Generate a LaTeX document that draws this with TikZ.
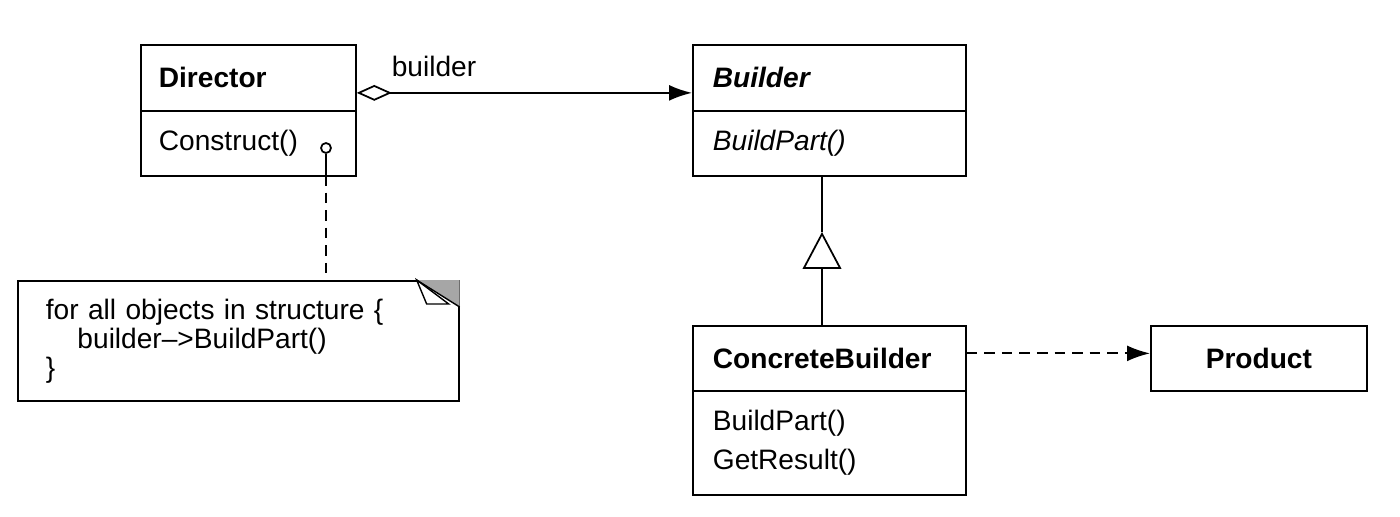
\documentclass[tikz,border=0pt]{standalone}
\usepackage{fontspec}
\setmainfont{Liberation Sans}
\usetikzlibrary{arrows.meta}

\begin{document}
\begin{tikzpicture}
  [x=0.02cm,y=-0.02cm,line width=1pt,
   every node/.style={font=\fontsize{16}{19}\selectfont},
   part/.style={draw,rectangle,anchor=north west,inner ysep=0pt,align=left},
   dep/.style={dash pattern=on 6pt off 4pt}]
  \useasboundingbox (0,0) rectangle (1400,517);

  \node[part,inner xsep=0.36cm,text width=3.58cm,minimum height=1.32cm] (dir) at (140,44) {\textbf{Director}};
  \node[part,inner xsep=0.36cm,text width=3.58cm,minimum height=1.3cm] (dirm) at (140,110) {Construct()};
  \node[part,inner xsep=0.4cm,text width=4.66cm,minimum height=1.32cm] (bld) at (692,44) {\textbf{\textit{Builder}}};
  \node[part,inner xsep=0.4cm,text width=4.66cm,minimum height=1.3cm] (bldm) at (692,110) {\textit{BuildPart()}};
  \node[part,inner xsep=0.4cm,text width=4.66cm,minimum height=1.3cm] (cb) at (692,325) {\textbf{ConcreteBuilder}};
  \node[part,inner xsep=0.4cm,text width=4.66cm,minimum height=2.08cm,font=\fontsize{16}{22}\selectfont] (cbm) at (692,390) {BuildPart()\\GetResult()};
  \node[part,align=center,minimum width=4.32cm,minimum height=1.3cm] (prd) at (1150,325) {\textbf{Product}};
  \node[part,inner xsep=0.56cm,text width=7.7cm,minimum height=2.4cm,font=\fontsize{16}{16.5}\selectfont] (note) at (17,280)
    {for all objects in structure \{\\\hspace*{18pt}builder\textendash{}>BuildPart()\\\}};
  \node (lbl) at (434,66) {builder};
  \node[circle,draw,inner sep=0pt,minimum size=0.2cm] (dot) at (326,148) {};
  \coordinate (stem) at (326,175);
  \coordinate (tip) at (822,232);

  \fill[black!35] (note.north east) -- ++(-43,0) -- ++(43,27) -- cycle;
  \draw[line width=0.8pt] (note.north east) ++(-43,0) -- ++(10,24) -- ++(22,0) -- cycle;
  \draw[line width=0.8pt] (note.north east) ++(-43,0) -- ++(43,27);

  \draw[{Diamond[open,length=20pt,width=9pt]}-{Latex[length=13pt,width=9pt]}] ([yshift=-0.3cm]dir.east) -- ([yshift=-0.3cm]bld.west);
  \draw[-{Triangle[open,length=21pt,width=22pt]}] (cb.north -| tip) -- (tip);
  \draw (tip) -- (tip |- bldm.south);
  \draw[dep,-{Latex[length=13pt,width=9pt]}] ([yshift=0.1cm]cb.east) -- ([yshift=0.1cm]prd.west);
  \draw (dot) -- (stem);
  \draw[dep] (stem) -- (stem |- note.north);

\end{tikzpicture}
\end{document}
